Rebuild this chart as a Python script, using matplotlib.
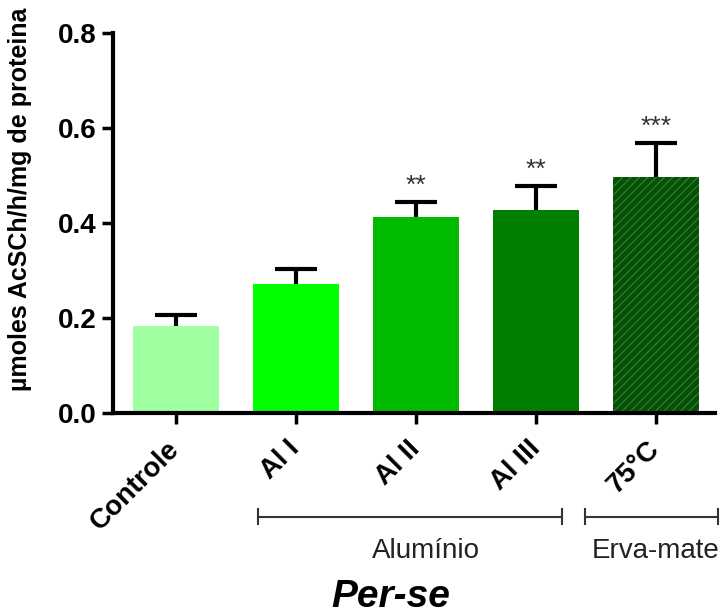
import numpy as np
import matplotlib
matplotlib.use('Agg')
import matplotlib.pyplot as plt
import matplotlib.transforms as mtransforms

plt.rcParams['font.family'] = ['Liberation Sans', 'DejaVu Sans']
plt.rcParams['hatch.linewidth'] = 0.8

# data
groups = ['Controle', 'Al I', 'Al II', 'Al III', '75°C']
means = [0.183, 0.272, 0.413, 0.427, 0.497]
errs = [0.023, 0.031, 0.031, 0.051, 0.071]
stars = ['', '', '**', '**', '***']
colors = ['#a0ffa0', '#00ff00', '#00bb00', '#007f00', '#005500']
hatches = ['', '', '', '', '////']
yticks = [0.0, 0.2, 0.4, 0.6, 0.8]

fig = plt.figure(figsize=(7.28, 6.15), dpi=100)
ax = fig.add_axes([0.155, 0.3285, 0.827, 0.618])

x = np.arange(len(groups))
bars = ax.bar(x, means, width=0.72, color=colors, linewidth=0, zorder=2)
for b, h in zip(bars, hatches):
    if h:
        b.set_hatch(h)
        b.set_edgecolor('#4f6f4f')

# upward-only error bars with caps
tops = np.array(means) + np.array(errs)
ax.vlines(x, means, tops, color='black', lw=3, zorder=3)
ax.hlines(tops, x - 0.175, x + 0.175, color='black', lw=3, zorder=3)

for xi, t, s in zip(x, tops, stars):
    if s:
        ax.text(xi, t + 0.008, s, ha='center', va='bottom', fontsize=19, color='#333333')

ax.set_xlim(-0.525, 4.49)
ax.set_ylim(0, 0.8)
ax.set_yticks(yticks)
ax.set_yticklabels(['%.1f' % v for v in yticks], fontsize=20, fontweight='bold')
ax.set_xticks(x)
ax.set_xticklabels(groups, rotation=45, ha='right', va='center', rotation_mode='anchor',
                   fontsize=20, fontweight='bold')
ax.tick_params(axis='both', width=2.5, length=8)
ax.tick_params(axis='x', pad=15)
for side in ['top', 'right']:
    ax.spines[side].set_visible(False)
for side in ['left', 'bottom']:
    ax.spines[side].set_linewidth(3)
ax.set_ylabel('µmoles AcSCh/h/mg de proteina', fontsize=18, fontweight='bold')
ax.yaxis.set_label_coords(-0.135, 0.563)

# group brackets below the axis
trans = mtransforms.blended_transform_factory(ax.transData, ax.transAxes)
brackets = [(0.683, 3.217), (3.408, 4.52)]
bracket_names = ['Alumínio', 'Erva-mate']
name_x = [2.08, 4.0]
yb = -0.273
for (x0, x1), name, xt in zip(brackets, bracket_names, name_x):
    ax.plot([x0, x1], [yb, yb], color='#333333', lw=1.5, transform=trans, clip_on=False)
    for xe in (x0, x1):
        ax.plot([xe, xe], [yb - 0.02, yb + 0.02], color='#333333', lw=1.5,
                transform=trans, clip_on=False)
    ax.text(xt, yb - 0.09, name, ha='center', va='center', fontsize=20,
            color='#222222', transform=trans)

ax.text(1.79, -0.485, 'Per-se', ha='center', va='center', fontsize=28, fontweight='bold',
        fontstyle='italic', transform=trans)

fig.savefig('out.png', dpi=100)
